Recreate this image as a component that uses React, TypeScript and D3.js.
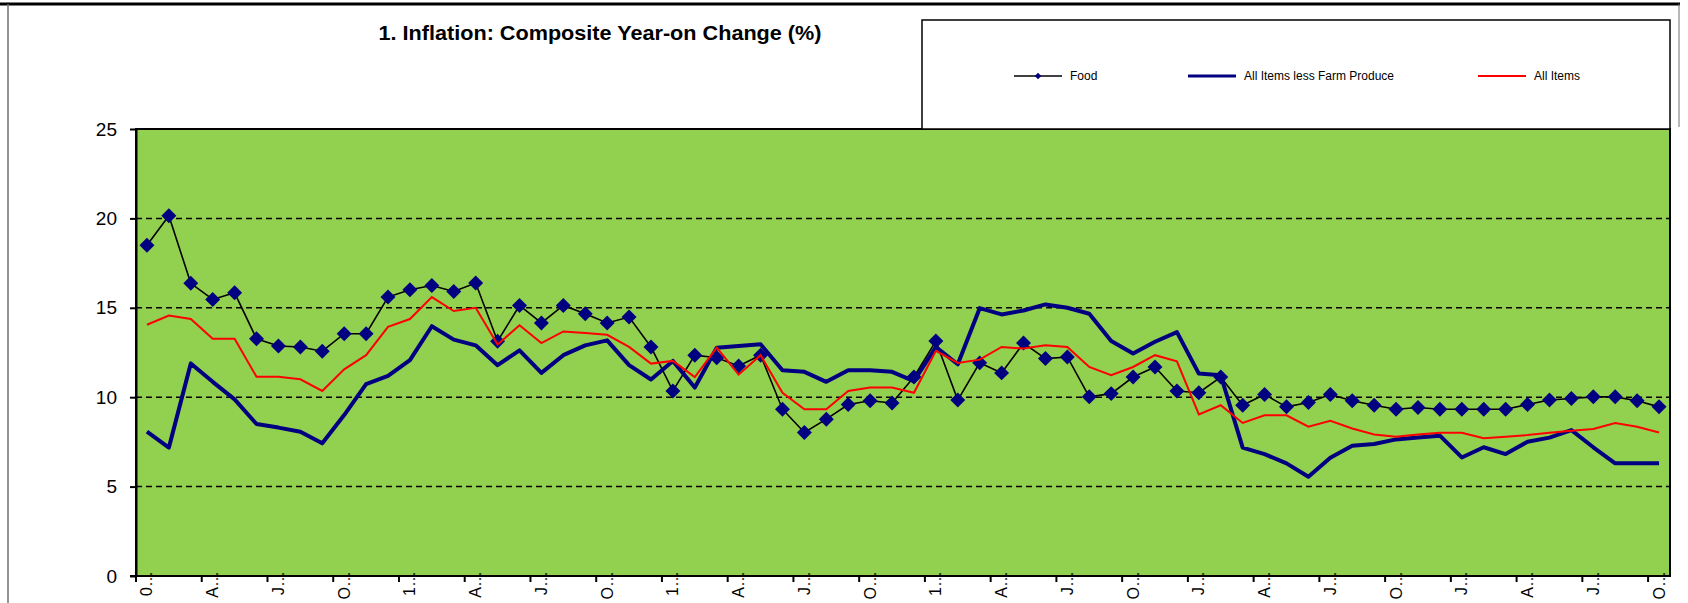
import { Component, createRef } from 'react';

import * as d3 from 'd3';

// category labels, one every three months (Excel truncated them)
const tick_labels = [
    "0…", "A…", "J…", "O…", "1…", "A…", "J…", "O…",
    "1…", "A…", "J…", "O…", "1…", "A…", "J…", "O…",
    "J…", "A…", "J…", "O…", "J…", "A…", "J…", "O…"
];

// year-on change (%), monthly
const food = [
    18.5, 20.15, 16.37, 15.47, 15.84, 13.27, 12.86, 12.81, 12.57, 13.55, 13.55, 15.6,
    16.01, 16.25, 15.91, 16.39, 13.13, 15.13, 14.15, 15.13, 14.67, 14.15, 14.48, 12.81,
    10.35, 12.35, 12.21, 11.75, 12.35, 9.33, 8.03, 8.77, 9.59, 9.8, 9.68, 11.13,
    13.14, 9.84, 11.92, 11.36, 13.03, 12.16, 12.25, 10.02, 10.2, 11.13, 11.69, 10.35,
    10.25, 11.13, 9.55, 10.15, 9.46, 9.7, 10.15, 9.8, 9.55, 9.33, 9.42, 9.33,
    9.33, 9.33, 9.33, 9.59, 9.84, 9.93, 10.02, 10.02, 9.8, 9.46
];

const all_items_less_farm = [
    8.07, 7.18, 11.89, 10.86, 9.88, 8.5, 8.3, 8.07, 7.42, 9.0, 10.73, 11.19,
    12.07, 13.97, 13.22, 12.9, 11.79, 12.62, 11.36, 12.35, 12.9, 13.18, 11.79, 10.99,
    12.03, 10.54, 12.77, 12.86, 12.96, 11.51, 11.42, 10.86, 11.51, 11.51, 11.42, 10.9,
    12.81, 11.84, 14.98, 14.63, 14.85, 15.19, 15.0, 14.67, 13.14, 12.44, 13.1, 13.64,
    11.32, 11.23, 7.18, 6.82, 6.3, 5.55, 6.62, 7.29, 7.38, 7.64, 7.74, 7.85,
    6.63, 7.2, 6.82, 7.51, 7.74, 8.16, 7.2, 6.3, 6.3, 6.3
];

const all_items = [
    14.05, 14.57, 14.37, 13.27, 13.27, 11.14, 11.14, 11.0, 10.35, 11.56, 12.35, 13.93,
    14.37, 15.6, 14.82, 15.0, 12.95, 14.02, 13.03, 13.68, 13.59, 13.49, 12.81, 11.88,
    12.03, 11.13, 12.77, 11.26, 12.35, 10.25, 9.33, 9.33, 10.35, 10.54, 10.54, 10.25,
    12.59, 11.92, 12.1, 12.81, 12.72, 12.9, 12.81, 11.69, 11.23, 11.69, 12.35, 12.01,
    9.04, 9.55, 8.56, 8.99, 8.99, 8.35, 8.68, 8.25, 7.92, 7.79, 7.92, 8.01,
    8.01, 7.7, 7.79, 7.88, 8.01, 8.12, 8.22, 8.56, 8.35, 8.03
];

const y_ticks = [0, 5, 10, 15, 20, 25];
const grid_values = [5, 10, 15, 20];

const legend_names = ["Food", "All Items less Farm Produce", "All Items"];


export default class App extends Component {

    svg_ref = createRef<SVGSVGElement>();

    componentDidMount() {
        document.body.style.margin = "0";
        this.renderChart();
    }

    renderChart() {

        // constants
        const width = 1688;
        const height = 603;
        const plot_left = 136;
        const plot_right = 1670;
        const plot_top = 129;
        const plot_bottom = 576;
        const font = "'Liberation Sans', Arial, sans-serif";
        const navy = "#000080";
        const green = "#92D050";

        let svg = d3.select(this.svg_ref.current);
        svg.selectAll("*").remove();

        svg.attr("width", width).attr("height", height);

        // outer chart frame
        svg.append("rect")
            .attr("width", width)
            .attr("height", height)
            .attr("fill", "white");
        svg.append("line")
            .attr("x1", 0).attr("x2", 1680)
            .attr("y1", 4).attr("y2", 4)
            .attr("stroke", "black")
            .attr("stroke-width", 3);
        svg.append("line")
            .attr("x1", 8).attr("x2", 8)
            .attr("y1", 4).attr("y2", height)
            .attr("stroke", "#707070")
            .attr("stroke-width", 1.5);
        svg.append("line")
            .attr("x1", 1679).attr("x2", 1679)
            .attr("y1", 4).attr("y2", 127)
            .attr("stroke", "#707070")
            .attr("stroke-width", 1);

        // title
        svg.append("text")
            .attr("x", 600)
            .attr("y", 40)
            .attr("text-anchor", "middle")
            .attr("font-family", font)
            .attr("font-weight", "bold")
            .attr("font-size", 20)
            .attr("textLength", 443)
            .attr("lengthAdjust", "spacingAndGlyphs")
            .text("1. Inflation: Composite Year-on Change (%)");

        // scales
        const categories = d3.range(food.length);
        let x_scale = d3.scaleBand<number>()
            .domain(categories)
            .range([plot_left, plot_right]);
        const x_center = (i: number) => (x_scale(i) as number) + x_scale.bandwidth() / 2;

        let y_scale = d3.scaleLinear()
            .domain([0, 25])
            .range([plot_bottom, plot_top]);

        // plot area
        svg.append("rect")
            .attr("x", plot_left)
            .attr("y", plot_top)
            .attr("width", plot_right - plot_left)
            .attr("height", plot_bottom - plot_top)
            .attr("fill", green);

        // gridlines
        svg.append("g")
            .selectAll("line")
            .data(grid_values).enter()
            .append("line")
            .attr("x1", plot_left)
            .attr("x2", plot_right)
            .attr("y1", d => y_scale(d))
            .attr("y2", d => y_scale(d))
            .attr("stroke", "black")
            .attr("stroke-width", 1.5)
            .attr("stroke-dasharray", "6,4");

        // food
        const line = d3.line<number>()
            .x((d, i) => x_center(i))
            .y(d => y_scale(d));

        svg.append("path")
            .datum(food)
            .attr("fill", "none")
            .attr("stroke", "black")
            .attr("stroke-width", 1.6)
            .attr("d", line);

        const diamond = d3.symbol().type(d3.symbolSquare).size(112);
        svg.append("g")
            .selectAll("path")
            .data(food).enter()
            .append("path")
            .attr("d", diamond)
            .attr("transform", (d, i) => "translate(" + x_center(i) + "," + y_scale(d) + ") rotate(45)")
            .attr("fill", navy);

        // all items less farm produce
        svg.append("path")
            .datum(all_items_less_farm)
            .attr("fill", "none")
            .attr("stroke", navy)
            .attr("stroke-width", 4)
            .attr("stroke-linejoin", "round")
            .attr("d", line);

        // all items
        svg.append("path")
            .datum(all_items)
            .attr("fill", "none")
            .attr("stroke", "#FF0000")
            .attr("stroke-width", 2)
            .attr("d", line);

        // plot border
        svg.append("rect")
            .attr("x", plot_left)
            .attr("y", plot_top)
            .attr("width", plot_right - plot_left)
            .attr("height", plot_bottom - plot_top)
            .attr("fill", "none")
            .attr("stroke", "black")
            .attr("stroke-width", 2);

        // y axis
        const y_axis = d3.axisLeft(y_scale)
            .tickValues(y_ticks)
            .tickSize(6)
            .tickSizeOuter(0)
            .tickPadding(13)
            .tickFormat(d3.format("d"));
        let y_axis_g = svg.append("g")
            .attr("transform", "translate(" + plot_left + ", 0)")
            .call(y_axis);
        y_axis_g.select(".domain").attr("stroke-width", 2);
        y_axis_g.selectAll(".tick line").attr("stroke-width", 2);
        y_axis_g.selectAll(".tick text")
            .attr("font-family", font)
            .attr("font-size", 19)
            .attr("fill", "black");

        // x axis: tick marks between groups of three months
        const tick_index = tick_labels.map((d, i) => i * 3);
        svg.append("g")
            .selectAll("line")
            .data(tick_index).enter()
            .append("line")
            .attr("x1", d => x_scale(d) as number)
            .attr("x2", d => x_scale(d) as number)
            .attr("y1", plot_bottom)
            .attr("y2", plot_bottom + 6)
            .attr("stroke", "black")
            .attr("stroke-width", 2);

        svg.append("line")
            .attr("x1", plot_left - 6)
            .attr("x2", plot_right)
            .attr("y1", plot_bottom)
            .attr("y2", plot_bottom)
            .attr("stroke", "black")
            .attr("stroke-width", 2);

        svg.append("g")
            .selectAll("text")
            .data(tick_labels).enter()
            .append("text")
            .attr("transform", (d, i) => "translate(" + x_center(tick_index[i]) + "," + (plot_bottom - 5) + ") rotate(-90)")
            .attr("text-anchor", "end")
            .attr("dominant-baseline", "central")
            .attr("font-family", font)
            .attr("font-size", 16)
            .text(d => d);

        // legend
        const legend_left = 922;
        const legend_top = 20;
        svg.append("rect")
            .attr("x", legend_left)
            .attr("y", legend_top)
            .attr("width", plot_right - legend_left)
            .attr("height", plot_top - legend_top)
            .attr("fill", "white")
            .attr("stroke", "black")
            .attr("stroke-width", 1.5);

        const legend_y = 76;
        const legend_x = [1014, 1188, 1478];
        const legend_colors = ["black", navy, "#FF0000"];
        const legend_widths = [1.6, 3, 2];
        let legend = svg.append("g")
            .selectAll("g")
            .data(legend_names).enter()
            .append("g")
            .attr("transform", (d, i) => "translate(" + legend_x[i] + "," + legend_y + ")");

        legend.append("line")
            .attr("x1", 0)
            .attr("x2", 48)
            .attr("stroke", (d, i) => legend_colors[i])
            .attr("stroke-width", (d, i) => legend_widths[i]);

        legend.filter((d, i) => i === 0)
            .append("path")
            .attr("d", d3.symbol().type(d3.symbolSquare).size(22))
            .attr("transform", "translate(24,0) rotate(45)")
            .attr("fill", navy);

        legend.append("text")
            .attr("x", 56)
            .attr("y", 0)
            .attr("dominant-baseline", "central")
            .attr("font-family", font)
            .attr("font-size", 12)
            .text(d => d);
    }

    render() {
        return (
            <svg ref={this.svg_ref} width={1688} height={603} style={{ display: "block" }}></svg>
        );
    }

}
